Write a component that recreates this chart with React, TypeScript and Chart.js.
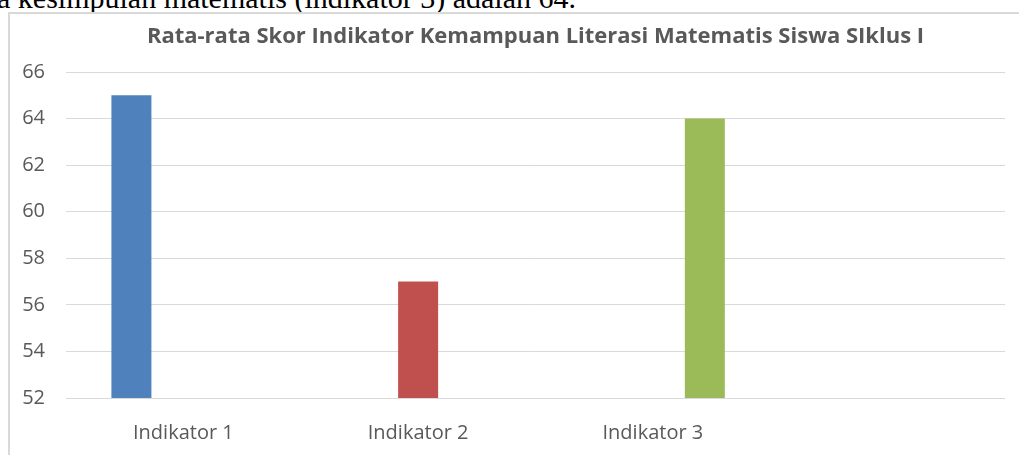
import React, { useEffect, useRef } from "react";
import { Chart, registerables } from "chart.js";

Chart.register(...registerables);

const categories = ["Indikator 1", "Indikator 2", "Indikator 3", ""];
const seriesNames = ["Indikator 1", "Indikator 2", "Indikator 3"];
const series1 = [65, null, null, null];
const series2 = [null, 57, null, null];
const series3 = [null, null, 64, null];
const seriesColors = ["#4f81bd", "#c0504d", "#9bbb59"];
const yMin = 52;
const yMax = 66;
const yStep = 2;
const chartTitle = "Rata-rata Skor Indikator Kemampuan Literasi Matematis Siswa SIklus I";
const headerText = "a kesimpulan matematis (indikator 3) adalah 64.";

export default function App() {
  const ref = useRef<HTMLCanvasElement | null>(null);

  useEffect(() => {
    if (!ref.current) return;
    const font = "'Open Sans', sans-serif";
    const chart = new Chart(ref.current, {
      type: "bar",
      data: {
        labels: categories,
        datasets: [series1, series2, series3].map((d, i) => ({
          label: seriesNames[i],
          data: d,
          backgroundColor: seriesColors[i],
          borderWidth: 0,
          categoryPercentage: 0.664,
          barPercentage: 0.77,
        })),
      },
      options: {
        animation: false,
        responsive: false,
        layout: { padding: { right: 14, left: 0, top: 0, bottom: 0 } },
        plugins: {
          legend: { display: false },
          tooltip: { enabled: false },
          title: {
            display: true,
            fullSize: false,
            text: chartTitle,
            color: "#595959",
            font: { family: font, size: 22, weight: "bold", lineHeight: 1.2 },
            padding: { top: 9.8, bottom: 21.8 },
          },
        },
        scales: {
          x: {
            grid: { display: false, drawTicks: false },
            border: { display: false },
            ticks: { color: "#595959", font: { family: font, size: 20 }, padding: 23 },
            afterFit: (s: any) => { s.height = 57; },
          },
          y: {
            min: yMin,
            max: yMax,
            grid: { color: "#d9d9d9", lineWidth: 1, drawTicks: false },
            border: { display: false },
            ticks: {
              stepSize: yStep,
              color: "#595959",
              font: { family: font, size: 20 },
              padding: 21,
            },
            afterFit: (s: any) => { s.width = 56; },
          },
        },
      },
    });
    return () => chart.destroy();
  }, []);

  return (
    <div
      style={{
        position: "fixed",
        left: 0,
        top: 0,
        width: 1019,
        height: 455,
        overflow: "hidden",
        background: "#ffffff",
      }}
    >
      <div
        style={{
          position: "absolute",
          left: -3,
          top: -17,
          fontFamily: "'Liberation Serif', 'Times New Roman', serif",
          fontSize: 30,
          lineHeight: 1,
          whiteSpace: "nowrap",
          color: "#000",
        }}
      >
        {headerText}
      </div>
      <div
        style={{
          position: "absolute",
          left: 8,
          top: 12,
          width: 1100,
          height: 500,
          borderLeft: "2px solid #d9d9d9",
          borderTop: "2px solid #d9d9d9",
          boxSizing: "border-box",
        }}
      />
      <canvas
        ref={ref}
        width={1009}
        height={441}
        style={{ position: "absolute", left: 10, top: 14, width: 1009, height: 441 }}
      />
    </div>
  );
}
